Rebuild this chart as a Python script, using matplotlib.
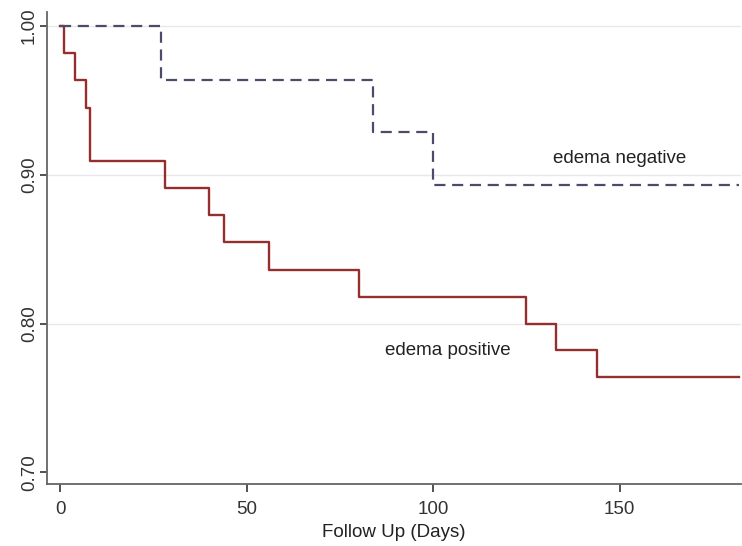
import matplotlib.pyplot as plt

plt.rcParams['font.family'] = ['Liberation Sans', 'DejaVu Sans']

# Kaplan-Meier step data
pos_days = [0, 1, 4, 7, 8, 28, 40, 44, 56, 80, 125, 133, 144, 182]
pos_surv = [1.000, 0.982, 0.964, 0.945, 0.909, 0.891, 0.873, 0.855,
            0.836, 0.818, 0.800, 0.782, 0.764, 0.764]
neg_days = [0, 27, 84, 100, 182]
neg_surv = [1.000, 0.964, 0.929, 0.893, 0.893]

y_ticks = [0.70, 0.80, 0.90, 1.00]
x_ticks = [0, 50, 100, 150]

fig = plt.figure(figsize=(7.42, 5.46), dpi=100)
ax = fig.add_axes([0.0640, 0.1130, 0.9340, 0.8650])

for y in [0.80, 0.90, 1.00]:
    ax.axhline(y, color='#e8e8e8', lw=1, zorder=0)

ax.step(pos_days, pos_surv, where='post', color='#962e2e', lw=1.7)
ax.step(neg_days, neg_surv, where='post', color='#4b4b6b', lw=1.6,
        dashes=(5, 3))

ax.text(150, 0.911, 'edema negative', ha='center', va='center', fontsize=13.5, color='#222222')
ax.text(104, 0.782, 'edema positive', ha='center', va='center', fontsize=13.5, color='#222222')

ax.set_xlim(-3.4, 182.4)
ax.set_ylim(0.692, 1.0094)
ax.set_xticks(x_ticks)
ax.set_yticks(y_ticks)
ax.set_yticklabels(['%.2f' % v for v in y_ticks], rotation=90, va='center')
ax.tick_params(labelsize=13.5, colors='#333333', width=1.2)
ax.tick_params(axis='x', length=6, pad=6)
ax.tick_params(axis='y', length=5, pad=2)
ax.set_xlabel('Follow Up (Days)', fontsize=13.5, color='#222222', labelpad=4)

for s in ['top', 'right']:
    ax.spines[s].set_visible(False)
for s in ['left', 'bottom']:
    ax.spines[s].set_color('#666666')
    ax.spines[s].set_linewidth(1.3)

fig.savefig('out.png', dpi=100)
